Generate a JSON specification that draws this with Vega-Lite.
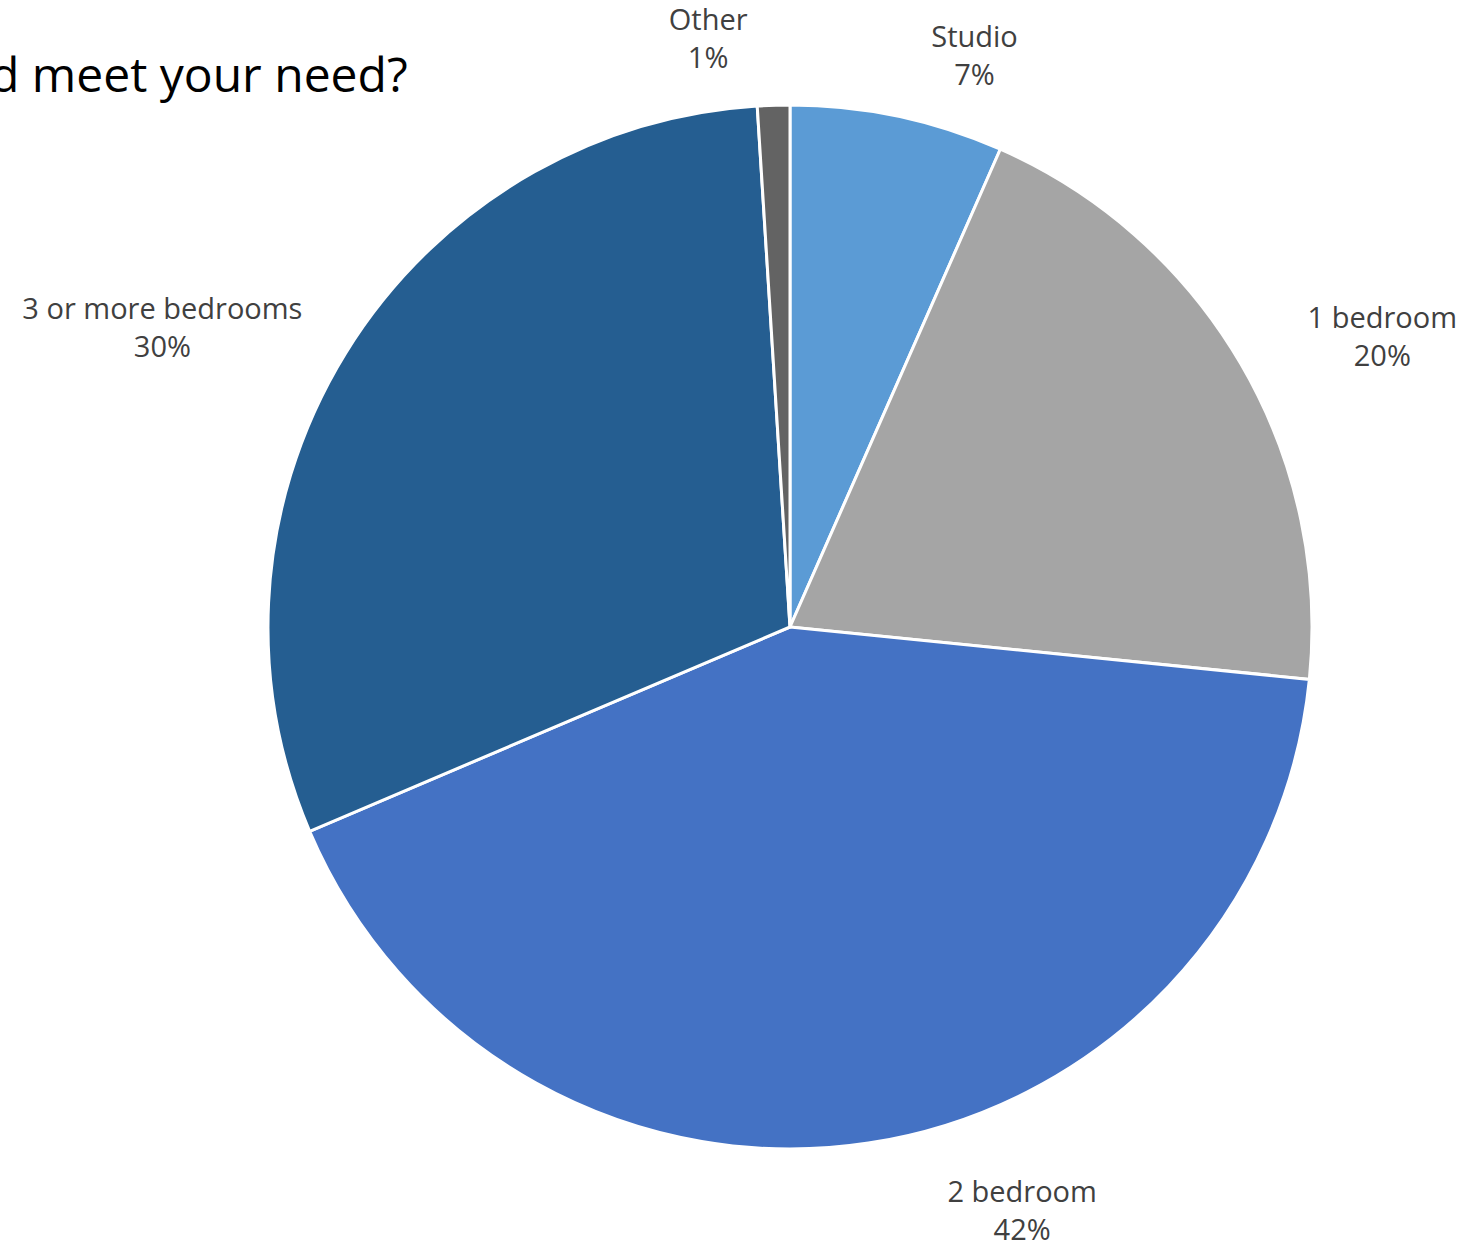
{
  "$schema": "https://vega.github.io/schema/vega-lite/v6.json",
  "width": 1372,
  "height": 1054,
  "autosize": "none",
  "padding": {"left": 104, "top": 100, "right": 0, "bottom": 91},
  "background": "white",
  "title": {
    "text": "d meet your need?",
    "anchor": "start",
    "frame": "group",
    "orient": "top",
    "offset": 0,
    "dx": -114,
    "dy": 116,
    "fontSize": 48,
    "font": "Open Sans",
    "fontWeight": "normal",
    "color": "#000000"
  },
  "config": {"view": {"stroke": null}},
  "data": {
    "values": [
      {"category": "Studio", "value": 6.6, "rank": 1, "label": "Studio\n7%"},
      {"category": "1 bedroom", "value": 20.0, "rank": 2, "label": "1 bedroom\n20%"},
      {"category": "2 bedroom", "value": 42.0, "rank": 3, "label": "2 bedroom\n42%"},
      {"category": "3 or more bedrooms", "value": 30.4, "rank": 4, "label": "3 or more bedrooms\n30%"},
      {"category": "Other", "value": 1.0, "rank": 5, "label": "Other\n1%"}
    ]
  },
  "encoding": {
    "theta": {"field": "value", "type": "quantitative", "stack": true},
    "order": {"field": "rank", "type": "quantitative"}
  },
  "layer": [
    {
      "mark": {"type": "arc", "outerRadius": 522, "stroke": "white", "strokeWidth": 3},
      "encoding": {
        "color": {
          "field": "category",
          "type": "nominal",
          "legend": null,
          "scale": {
            "domain": ["Studio", "1 bedroom", "2 bedroom", "3 or more bedrooms", "Other"],
            "range": ["#5B9BD5", "#A5A5A5", "#4472C4", "#255E91", "#636363"]
          }
        }
      }
    },
    {
      "mark": {"type": "text", "radius": 600, "dx": 61, "dy": -2, "font": "Open Sans", "fontSize": 29, "lineHeight": 38, "lineBreak": "\n", "color": "#404040", "align": "center", "baseline": "middle"},
      "encoding": {
        "detail": {"field": "category"},
        "text": {"condition": {"test": "datum.category === 'Studio'", "field": "label"}, "value": ""}
      }
    },
    {
      "mark": {"type": "text", "radius": 600, "dx": 74, "dy": -6, "font": "Open Sans", "fontSize": 29, "lineHeight": 38, "lineBreak": "\n", "color": "#404040", "align": "center", "baseline": "middle"},
      "encoding": {
        "detail": {"field": "category"},
        "text": {"condition": {"test": "datum.category === '1 bedroom'", "field": "label"}, "value": ""}
      }
    },
    {
      "mark": {"type": "text", "radius": 600, "dx": 142, "dy": -27, "font": "Open Sans", "fontSize": 29, "lineHeight": 38, "lineBreak": "\n", "color": "#404040", "align": "center", "baseline": "middle"},
      "encoding": {
        "detail": {"field": "category"},
        "text": {"condition": {"test": "datum.category === '2 bedroom'", "field": "label"}, "value": ""}
      }
    },
    {
      "mark": {"type": "text", "radius": 600, "dx": -117, "dy": -2, "font": "Open Sans", "fontSize": 29, "lineHeight": 38, "lineBreak": "\n", "color": "#404040", "align": "center", "baseline": "middle"},
      "encoding": {
        "detail": {"field": "category"},
        "text": {"condition": {"test": "datum.category === '3 or more bedrooms'", "field": "label"}, "value": ""}
      }
    },
    {
      "mark": {"type": "text", "radius": 600, "dx": -63, "dy": -6, "font": "Open Sans", "fontSize": 29, "lineHeight": 38, "lineBreak": "\n", "color": "#404040", "align": "center", "baseline": "middle"},
      "encoding": {
        "detail": {"field": "category"},
        "text": {"condition": {"test": "datum.category === 'Other'", "field": "label"}, "value": ""}
      }
    }
  ]
}
